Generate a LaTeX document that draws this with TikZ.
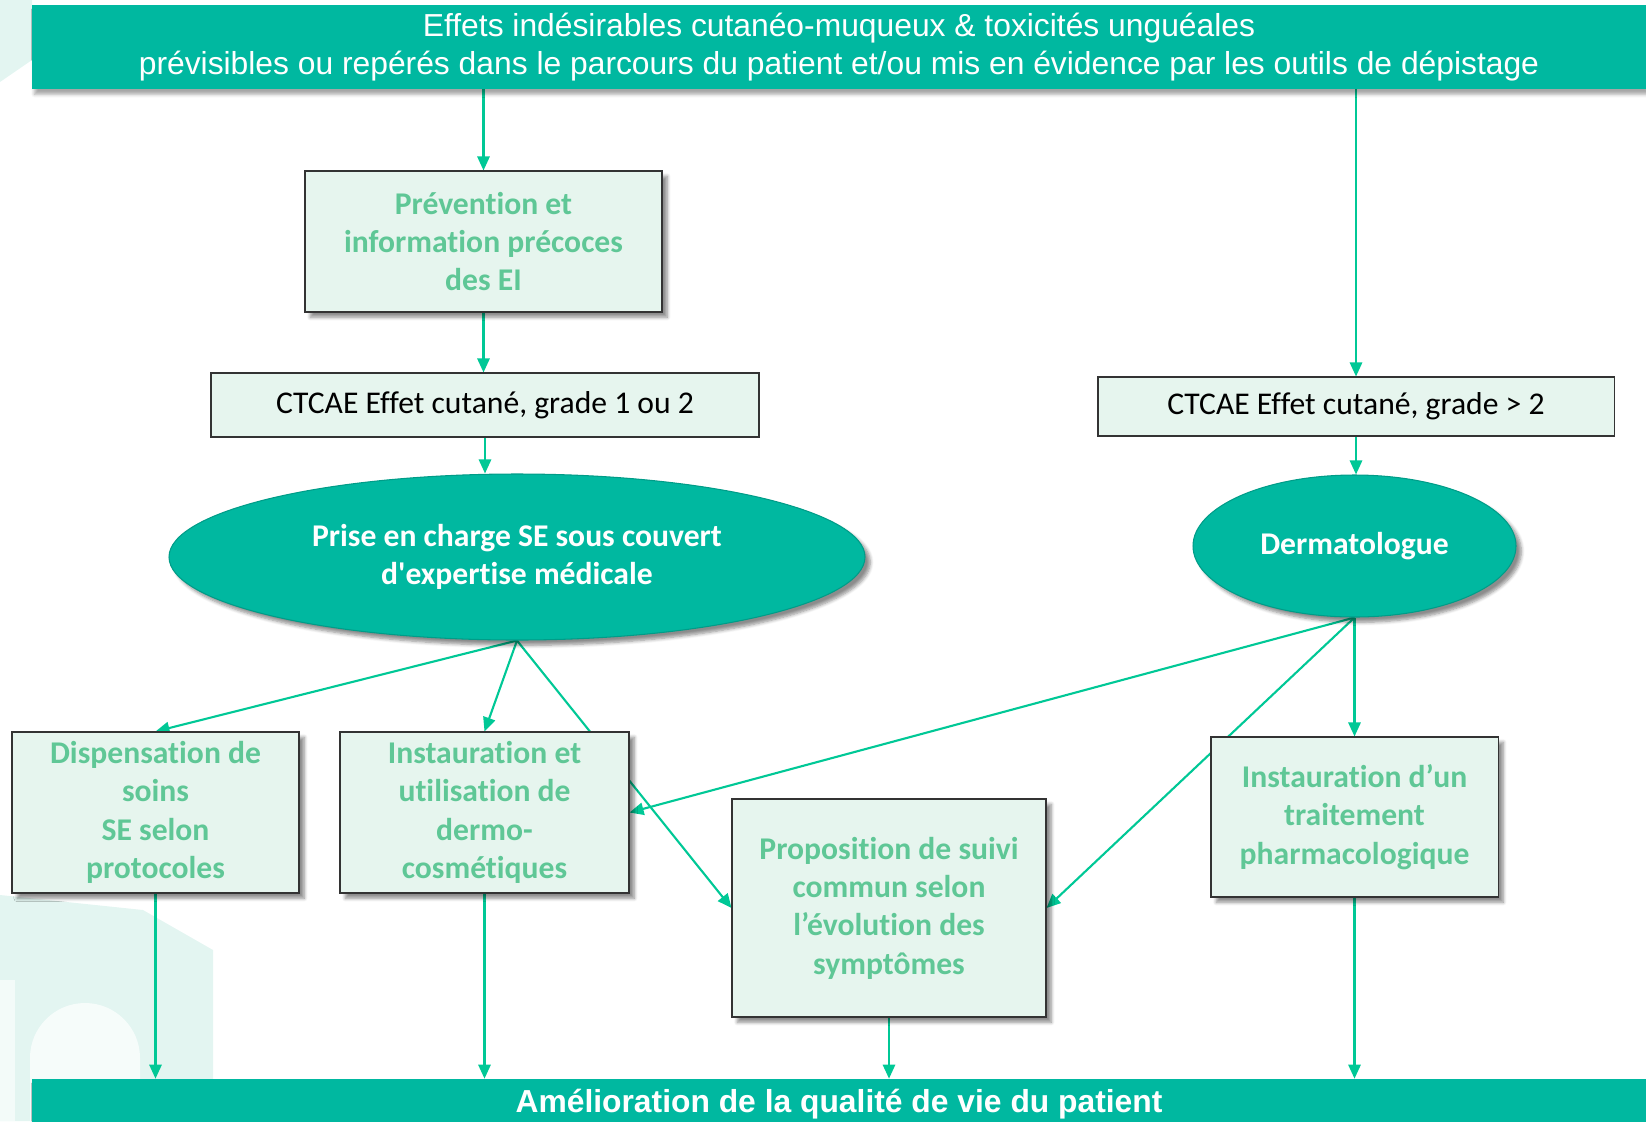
\documentclass[tikz,border=0pt]{standalone}
\usepackage{fontspec}
\setmainfont{Carlito}[Ligatures={TeX,NoCommon,NoContextual},Contextuals=NoAlternate]
\newfontfamily\arial{Liberation Sans}
\usetikzlibrary{arrows.meta,shapes.geometric,shadows.blur,backgrounds}
\definecolor{sarcelle}{HTML}{00B8A0}
\definecolor{bordure}{HTML}{009C88}
\definecolor{menthe}{HTML}{E6F5EE}
\definecolor{vert}{HTML}{5FC796}
\definecolor{vertfleche}{HTML}{00C896}
\definecolor{filigrane}{HTML}{E3F5F1}
\tikzset{
	ombre/.style={blur shadow={shadow xshift=3pt,shadow yshift=-3pt,shadow blur steps=6,shadow opacity=45}},
	bandeau/.style={rectangle,fill=sarcelle,text=white,align=center,font=\arial\fontsize{18.1}{21.5}\selectfont,minimum width=32.28cm,blur shadow={shadow xshift=1.5pt,shadow yshift=-3pt,shadow blur steps=4,shadow opacity=35}},
	boite/.style={rectangle,draw=black!80,line width=.6pt,fill=menthe,text=vert,align=center,font=\bfseries\fontsize{18}{21.8}\selectfont,ombre},
	grade/.style={rectangle,draw=black!80,line width=.6pt,fill=menthe,text=black,font=\fontsize{18}{21.8}\selectfont},
	bulle/.style={ellipse,draw=bordure,line width=.6pt,fill=sarcelle,text=white,align=center,inner sep=0pt,font=\bfseries\fontsize{18}{21.8}\selectfont,ombre},
	fleche/.style={draw=vertfleche,line width=1.2pt,-{Triangle[length=8pt,width=7pt]}}
}
\begin{document}
\begin{tikzpicture}
		\useasboundingbox (0,0) rectangle (32.92,-22.42);
		% bandeaux
		\node[bandeau,name=haut,minimum height=1.68cm]at(16.78,-0.94){Effets indésirables cutanéo-muqueux \& toxicités unguéales\\prévisibles ou repérés dans le parcours du patient et/ou mis en évidence par les outils de dépistage};
		\node[bandeau,name=bas,minimum height=1cm,font=\arial\bfseries\fontsize{18.1}{21.5}\selectfont]at(16.78,-22.08){Amélioration de la qualité de vie du patient};
		% colonne gauche
		\node[boite,name=prev,minimum width=7.14cm,minimum height=2.82cm]at(9.67,-4.83){Prévention et\\information précoces\\des EI};
		\node[grade,name=ct1,minimum width=10.96cm,minimum height=1.28cm]at(9.70,-8.10){CTCAE Effet cutané, grade 1 ou 2};
		\node[bulle,name=pec,minimum width=13.92cm,minimum height=3.32cm]at(10.34,-11.14){Prise en charge SE sous couvert\\d\textquotesingle expertise médicale};
		% colonne droite
		\node[grade,name=ct2,minimum width=10.32cm,minimum height=1.18cm]at(27.12,-8.13){CTCAE Effet cutané, grade > 2};
		\node[bulle,name=derm,minimum width=6.46cm,minimum height=2.84cm]at(27.09,-10.92){Dermatologue};
		% actions
		\node[boite,name=disp,minimum width=5.74cm,minimum height=3.22cm]at(3.11,-16.25){Dispensation de\\soins\\SE selon\\protocoles};
		\node[boite,name=inst,minimum width=5.78cm,minimum height=3.22cm]at(9.69,-16.25){Instauration et\\utilisation de\\dermo-\\cosmétiques};
		\node[boite,name=suiv,minimum width=6.28cm,minimum height=4.36cm]at(17.78,-18.16){Proposition de suivi\\commun selon\\l’évolution des\\symptômes};
		\node[boite,name=trt,minimum width=5.74cm,minimum height=3.20cm]at(27.09,-16.34){Instauration d’un\\traitement\\pharmacologique};
		\begin{pgfonlayer}{background}
		\fill[filigrane] (0,0)--(.64,0)--(.64,-1.2)--(0,-1.64)--cycle;
		\fill[filigrane] (0,-17.9)--(2.86,-18.2)--(4.26,-19.0)--(4.26,-22.42)--(0,-22.42)--cycle;
		\fill[white,opacity=.7] (.6,-22.42)--(.6,-21.16) arc (180:0:1.1)--(2.8,-22.42)--cycle;
		\fill[white,opacity=.6] (0,-22.42)--(0,-19.6)--(.3,-19.6)--(.3,-22.42)--cycle;
		\draw[fleche](haut.south -| prev.north)--(prev.north);
		\draw[fleche](prev.south)--(prev.south |- ct1.north);
		\draw[fleche](ct1.south)--(ct1.south |- pec.north);
		\draw[fleche](haut.south -| ct2.north)--(ct2.north);
		\draw[fleche](ct2.south)--(ct2.south |- derm.north);
		\draw[fleche](pec.south)--(disp.north);
		\draw[fleche](pec.south)--(inst.north);
		\draw[fleche](pec.south)--(suiv.west);
		\draw[fleche](derm.south)--(inst.east);
		\draw[fleche](derm.south)--(suiv.east);
		\draw[fleche](derm.south)--(trt.north);
		\foreach \n in {disp,inst,suiv,trt}
		\draw[fleche](\n.south)--(\n.south |- bas.north);
		\end{pgfonlayer}
	\end{tikzpicture}
\end{document}
